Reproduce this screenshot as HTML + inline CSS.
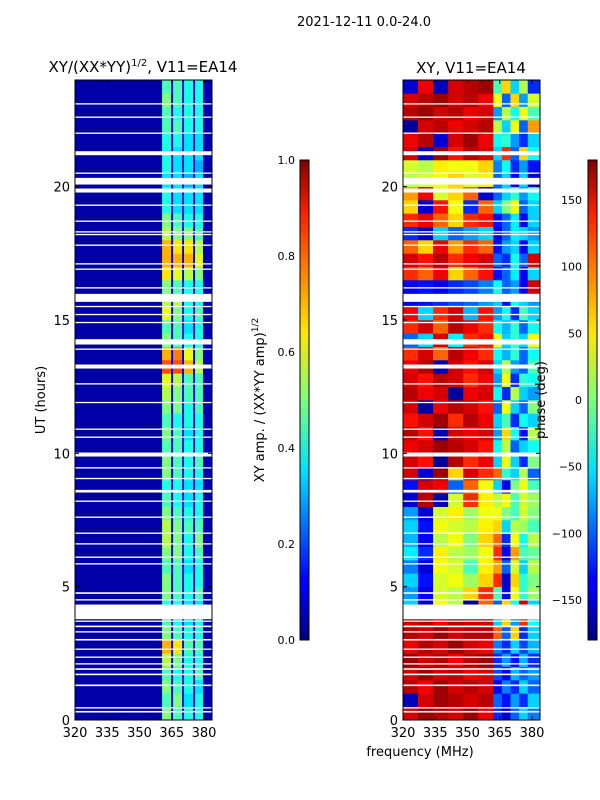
<!DOCTYPE html>
<html><head><meta charset="utf-8"><style>
html,body{margin:0;padding:0;background:#fff;width:600px;height:800px;overflow:hidden}
svg text{font-family:"DejaVu Sans","Liberation Sans",sans-serif;fill:#000}
</style></head><body>
<svg id="fig" width="600" height="800" viewBox="0 0 600 800">
<defs><linearGradient id="jet" x1="0" y1="1" x2="0" y2="0">
<stop offset="0" stop-color="#000080"/><stop offset="0.11" stop-color="#0000ff"/><stop offset="0.125" stop-color="#0000ff"/><stop offset="0.34" stop-color="#00d4ff"/><stop offset="0.36" stop-color="#00e5f8"/><stop offset="0.5" stop-color="#7cff79"/><stop offset="0.64" stop-color="#ffe600"/><stop offset="0.66" stop-color="#ffd700"/><stop offset="0.89" stop-color="#ff1e00"/><stop offset="1" stop-color="#800000"/></linearGradient></defs>
<text x="364" y="26" font-size="13" text-anchor="middle">2021-12-11 0.0-24.0</text>
<text x="143" y="72" font-size="15" text-anchor="middle">XY/(XX*YY)<tspan dy="-6" font-size="10">1/2</tspan><tspan dy="6">, V11=EA14</tspan></text>
<text x="471" y="73" font-size="15" text-anchor="middle">XY, V11=EA14</text>
<g id="ampPlot"></g>
<g id="phPlot"></g>
<g id="axes"></g>
<text transform="translate(45,400) rotate(-90)" font-size="13" text-anchor="middle">UT (hours)</text>
<text x="420" y="756" font-size="13" text-anchor="middle">frequency (MHz)</text>
<rect x="300" y="160" width="9" height="480" fill="url(#jet)" stroke="#000" stroke-width="1"/>
<rect x="588" y="160" width="9" height="480" fill="url(#jet)" stroke="#000" stroke-width="1"/>
<text transform="translate(264,400) rotate(-90)" font-size="13" text-anchor="middle">XY amp. / (XX*YY amp)<tspan dy="-6" font-size="9">1/2</tspan></text>
<text transform="translate(545,400) rotate(-90)" font-size="13" text-anchor="middle">phase (deg)</text>
</svg>
<script>
const ampFreqEdges=[320,360.5,364.7,365.6,369.8,370.7,374.9,375.8,379.5,384];
const phFreqEdges=[320,327,334,341,348,355,362,366,370,374,378,384];
const hourStep=0.5;
// amplitude rows, bottom (0h) to top (24h); cols: dark,b1,gap,b2,gap,b3,gap,b4,dark
const ampRows=[
[0.04,0.5,0.12,0.45,0.12,0.4,0.12,0.4,0.05],[0.04,0.45,0.12,0.5,0.12,0.35,0.12,0.4,0.05],
[0.04,0.5,0.12,0.45,0.12,0.4,0.12,0.35,0.05],[0.04,0.45,0.12,0.4,0.12,0.4,0.12,0.45,0.05],
[0.04,0.55,0.12,0.5,0.12,0.4,0.12,0.4,0.05],[0.04,0.7,0.12,0.65,0.12,0.45,0.12,0.45,0.05],
[0.04,0.5,0.12,0.45,0.12,0.4,0.12,0.4,0.05],[0.04,0.45,0.12,0.4,0.12,0.35,0.12,0.4,0.05],
[0.04,0.4,0.12,0.4,0.12,0.35,0.12,0.35,0.05],[0.04,0.5,0.12,0.45,0.12,0.4,0.12,0.45,0.05],
[0.04,0.5,0.12,0.45,0.12,0.4,0.12,0.4,0.05],[0.04,0.45,0.12,0.45,0.12,0.35,0.12,0.4,0.05],
[0.04,0.5,0.12,0.5,0.12,0.4,0.12,0.45,0.05],[0.04,0.55,0.12,0.5,0.12,0.4,0.12,0.5,0.05],
[0.04,0.55,0.12,0.5,0.12,0.45,0.12,0.45,0.05],[0.04,0.5,0.12,0.45,0.12,0.4,0.12,0.4,0.05],
[0.04,0.45,0.12,0.4,0.12,0.35,0.12,0.4,0.05],[0.04,0.4,0.12,0.4,0.12,0.35,0.12,0.35,0.05],
[0.04,0.5,0.12,0.45,0.12,0.4,0.12,0.4,0.05],[0.04,0.5,0.12,0.45,0.12,0.4,0.12,0.45,0.05],
[0.04,0.45,0.12,0.45,0.12,0.4,0.12,0.4,0.05],[0.04,0.5,0.12,0.45,0.12,0.35,0.12,0.4,0.05],
[0.04,0.45,0.12,0.4,0.12,0.4,0.12,0.4,0.05],[0.04,0.5,0.12,0.5,0.12,0.4,0.12,0.45,0.05],
[0.04,0.55,0.12,0.5,0.12,0.45,0.12,0.45,0.05],[0.04,0.6,0.12,0.55,0.12,0.45,0.12,0.45,0.05],
[0.04,0.8,0.12,0.8,0.12,0.7,0.12,0.55,0.05],[0.04,0.7,0.12,0.75,0.12,0.6,0.12,0.5,0.05],
[0.04,0.5,0.12,0.45,0.12,0.4,0.12,0.4,0.05],[0.04,0.45,0.12,0.45,0.12,0.35,0.12,0.4,0.05],
[0.04,0.6,0.12,0.5,0.12,0.4,0.12,0.45,0.05],[0.04,0.55,0.12,0.55,0.12,0.4,0.12,0.4,0.05],
[0.04,0.5,0.12,0.45,0.12,0.4,0.12,0.4,0.05],[0.04,0.65,0.12,0.6,0.12,0.55,0.12,0.5,0.05],
[0.04,0.7,0.12,0.7,0.12,0.7,0.12,0.6,0.05],[0.04,0.7,0.12,0.65,0.12,0.65,0.12,0.55,0.05],
[0.04,0.55,0.12,0.5,0.12,0.5,0.12,0.45,0.05],[0.04,0.5,0.12,0.45,0.12,0.4,0.12,0.4,0.05],
[0.04,0.4,0.12,0.35,0.12,0.35,0.12,0.35,0.05],[0.04,0.4,0.12,0.35,0.12,0.35,0.12,0.35,0.05],
[0.04,0.35,0.12,0.35,0.12,0.3,0.12,0.35,0.05],[0.04,0.4,0.12,0.35,0.12,0.35,0.12,0.3,0.05],
[0.04,0.4,0.12,0.35,0.12,0.35,0.12,0.35,0.05],[0.04,0.4,0.12,0.4,0.12,0.35,0.12,0.35,0.05],
[0.04,0.45,0.12,0.45,0.12,0.4,0.12,0.4,0.05],[0.04,0.45,0.12,0.4,0.12,0.4,0.12,0.4,0.05],
[0.04,0.5,0.12,0.45,0.12,0.4,0.12,0.4,0.05],[0.04,0.45,0.12,0.45,0.12,0.4,0.12,0.4,0.05]];
// phase rows (deg), bottom to top
const phRows=[
[150,170,160,150,170,140,-120,-150,-100,-60,-90],[-160,150,170,160,150,160,-100,-130,-80,-120,-60],
[160,140,170,150,160,150,-140,-90,-120,-60,-100],[150,170,150,160,140,150,-110,-140,-70,-100,-80],
[170,150,160,140,160,170,-120,-80,-130,-70,-120],[140,160,150,170,150,140,-90,-120,-60,-110,-70],
[160,150,170,150,160,160,100,-100,60,-120,-60],[150,160,140,160,150,150,-60,60,-80,120,-40],
[-60,-150,40,20,-170,100,-100,60,-40,150,-60],[-80,-140,30,20,60,120,-20,-140,40,-30,10],
[-60,-130,30,40,10,60,120,-150,60,-30,0],[-90,-150,40,30,-20,50,80,-100,30,-60,20],
[-50,-120,50,20,10,40,120,-140,80,-20,-10],[-70,-140,20,40,0,60,100,-120,40,-40,20],
[-60,-130,40,30,20,50,60,-60,20,10,-20],[-80,-150,30,50,10,40,40,0,-20,30,0],
[-150,160,-160,30,120,50,20,40,-20,30,10],[-130,150,140,-100,100,40,-60,-140,0,40,-20],
[150,-150,170,60,150,120,100,-30,-60,20,-100],[150,130,-170,160,120,140,-60,40,-60,-120,0],
[140,150,170,160,150,130,-40,20,-100,-60,-40],[160,130,-160,150,140,150,-80,60,-40,-130,20],
[130,150,170,120,160,140,-60,-20,-120,-40,-60],[150,-170,140,160,150,130,-100,40,-60,-100,0],
[160,140,150,-170,140,150,-40,-120,20,-60,-80],[150,130,160,150,120,140,-80,40,-120,-30,-40],
[140,160,-160,150,130,150,-60,20,-80,-100,-20],[120,150,100,160,140,120,-40,-70,-30,-100,-40],
[-100,-60,150,-50,120,130,40,-60,-30,-60,40],[120,150,100,160,140,120,-40,-70,-30,-100,-40],
[140,-60,120,150,-70,130,-80,-40,-120,-20,-60],[-140,-130,-120,-110,-100,-80,-60,-130,-40,-60,-80],
[-140,-130,-140,-120,-110,-90,-40,-100,-80,-140,150],[120,100,140,60,100,130,-130,-100,-50,-140,-60],
[150,130,160,120,140,150,-100,-120,-40,-100,150],[100,60,140,80,120,100,-130,-80,-60,-140,-60],
[-120,-150,-60,-100,-80,-60,-140,-100,-50,-60,-80],[120,140,100,60,120,130,-130,-100,-50,-140,-60],
[60,-150,130,40,-120,100,-60,0,40,-100,-60],[80,140,30,60,100,-150,-100,-60,-30,-80,-40],
[20,30,40,60,30,50,-100,-60,-140,-60,-150],[30,20,50,40,40,60,-90,-40,-120,-80,-130],
[150,-150,170,130,160,150,-60,120,-100,60,-40],[140,160,-150,150,170,140,-40,-30,-80,-120,-60],
[-170,150,160,140,150,160,20,-60,40,-100,80],[160,170,150,160,140,150,-80,20,-40,40,-20],
[150,160,170,150,160,140,40,-100,60,-80,30],[-150,140,-160,150,160,170,-20,60,-60,20,-120]];
// flagged (blank) intervals in hours
const flags=[[0.28,0.34],[0.43,0.48],[1.27,1.33],[1.68,1.74],[1.88,1.94],[2.08,2.13],[2.33,2.38],[2.63,2.68],[2.98,3.04],[3.28,3.33],[3.48,3.54],[3.68,3.73],[3.78,4.33],[4.48,4.53],[4.73,4.79],[5.83,5.88],[6.08,6.13],[6.58,6.63],[6.98,7.03],[7.58,7.63],[8.18,8.23],[8.53,8.63],[9.03,9.08],[9.43,9.48],[9.88,10.03],[10.58,10.63],[10.88,10.93],[11.88,11.93],[12.58,12.63],[13.18,13.33],[13.88,13.93],[14.08,14.28],[14.88,14.93],[15.18,15.23],[15.48,15.53],[15.68,15.98],[16.18,16.23],[16.88,16.93],[17.08,17.13],[17.78,17.83],[18.18,18.23],[18.28,18.33],[18.68,18.73],[19.28,19.33],[19.78,19.93],[20.08,20.33],[20.48,20.53],[21.18,21.33],[21.98,22.03],[22.58,22.63],[23.08,23.13]];
const yTicks=[0,5,10,15,20];
const xTicks=[320,335,350,365,380];
const ampCbTicks=[0,0.2,0.4,0.6,0.8,1.0];
const phCbTicks=[-150,-100,-50,0,50,100,150];

const NS='http://www.w3.org/2000/svg';
const panels=[{x0:75,x1:212},{x0:403,x1:540}];
const Y0=720,Y1=80,FMIN=320,FMAX=383.7;
function yScale(h){return Y0-(h/24)*(Y0-Y1);}
function xScale(p,f){return p.x0+(f-FMIN)/(FMAX-FMIN)*(p.x1-p.x0);}
function jet(v){v=Math.max(0,Math.min(1,v));
 const r=Math.max(0,Math.min(1,1.5-Math.abs(4*v-3))),g=Math.max(0,Math.min(1,1.5-Math.abs(4*v-2))),b=Math.max(0,Math.min(1,1.5-Math.abs(4*v-1)));
 return `rgb(${Math.round(r*255)},${Math.round(g*255)},${Math.round(b*255)})`;}
function mk(tag,attrs,parent){const e=document.createElementNS(NS,tag);for(const k in attrs)e.setAttribute(k,attrs[k]);parent.appendChild(e);return e;}
function drawGrid(g,p,rows,edges,norm,name){
 rows.forEach((row,i)=>{const ya=yScale(i*hourStep),yb=yScale((i+1)*hourStep);
  row.forEach((v,j)=>{const xa=xScale(p,edges[j]),xb=Math.min(p.x1,xScale(p,edges[j+1]));
   const r=mk('rect',{x:xa,y:yb,width:Math.max(0,xb-xa)+0.3,height:ya-yb+0.3,fill:jet(norm(v))},g);
   
   });});
 flags.forEach(f=>{const r=mk('rect',{x:p.x0,y:yScale(f[1]),width:p.x1-p.x0,height:yScale(f[0])-yScale(f[1]),fill:'#fff'},g);
  
  });
}
drawGrid(document.getElementById('ampPlot'),panels[0],ampRows,ampFreqEdges,v=>v,'amp-cell');
drawGrid(document.getElementById('phPlot'),panels[1],phRows,phFreqEdges,v=>(v+180)/360,'phase-cell');
const ax=document.getElementById('axes');
panels.forEach((p,k)=>{
 const fr=mk('rect',{x:p.x0,y:Y1,width:p.x1-p.x0,height:Y0-Y1,fill:'none',stroke:'#000','stroke-width':1},ax);
 
 
 yTicks.forEach(t=>{const y=yScale(t);
  mk('line',{x1:p.x0,x2:p.x0+4,y1:y,y2:y,stroke:'#000'},ax);mk('line',{x1:p.x1,x2:p.x1-4,y1:y,y2:y,stroke:'#000'},ax);
  const tx=mk('text',{x:p.x0-5,y:y+5,'font-size':13,'text-anchor':'end'},ax);tx.textContent=t;
  
  });
 xTicks.forEach(t=>{const x=xScale(p,t);
  mk('line',{x1:x,x2:x,y1:Y0,y2:Y0-4,stroke:'#000'},ax);mk('line',{x1:x,x2:x,y1:Y1,y2:Y1+4,stroke:'#000'},ax);
  const tx=mk('text',{x:x,y:Y0+17,'font-size':13,'text-anchor':'middle'},ax);tx.textContent=t;
  
  });
});
ampCbTicks.forEach(t=>{const y=640-t*480;
 mk('line',{x1:300,x2:304,y1:y,y2:y,stroke:'#000'},ax);mk('line',{x1:309,x2:305,y1:y,y2:y,stroke:'#000'},ax);
 const tx=mk('text',{x:295,y:y+4,'font-size':11,'text-anchor':'end'},ax);tx.textContent=t.toFixed(1);
 
 });
phCbTicks.forEach(t=>{const y=640-(t+180)/360*480;
 mk('line',{x1:588,x2:592,y1:y,y2:y,stroke:'#000'},ax);mk('line',{x1:597,x2:593,y1:y,y2:y,stroke:'#000'},ax);
 const tx=mk('text',{x:582,y:y+4,'font-size':11,'text-anchor':'end'},ax);tx.textContent=t<0?'\u2212'+(-t):t;
 
 });
</script>
</body></html>
